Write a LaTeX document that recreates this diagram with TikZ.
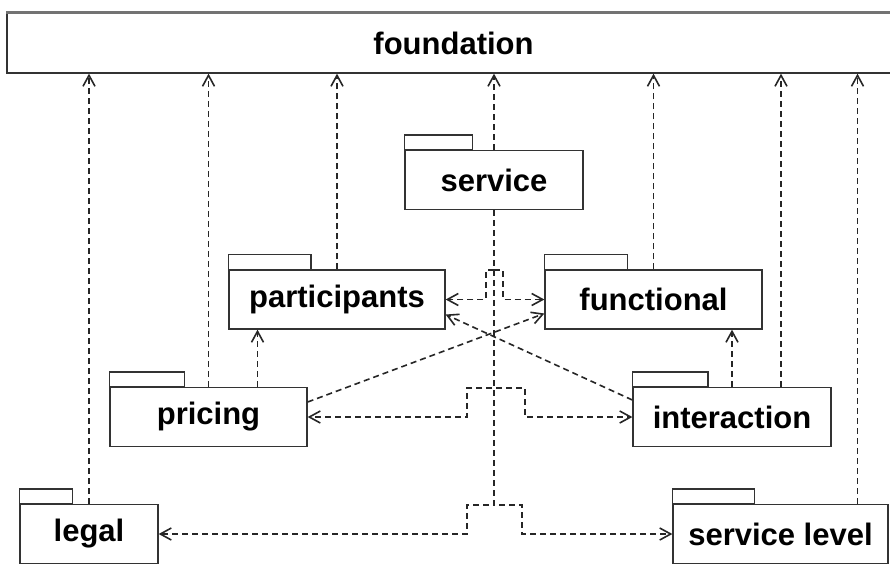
\documentclass[tikz,border=0pt]{standalone}
\usepackage{fontspec}
\setmainfont{Liberation Sans}
\usetikzlibrary{arrows.meta,calc}

\begin{document}
\begin{tikzpicture}[x=1pt,y=-1pt,
  every node/.style={draw=black!80,line width=1.3pt,fill=white,inner sep=0pt,font=\fontsize{31}{34}\selectfont\bfseries},
  pkg/.style={minimum width=#1,minimum height=59pt},
  tab/.style={draw=black!80,line width=1.3pt,fill=white},
  dep/.style={draw=black!85,line width=1.6pt,dash pattern=on 6pt off 4pt,-{Straight Barb[length=11pt,width=12pt]}}]
\useasboundingbox (0,0) rectangle (890,563);
\clip (0,0) rectangle (890,563);
\fill[white] (0,0) rectangle (890,563);
% packages
\node[minimum width=893pt,minimum height=60pt] (found) at (453.5,43) {foundation};
\draw[line width=3pt,black!55] (found.north west) -- (found.north east);
\node[pkg=178pt] (svc) at (494,180) {service};
\node[pkg=216pt] (part) at (337,299.5) {participants};
\node[pkg=217pt] (func) at (653.5,299.5) {functional};
\node[pkg=197pt] (pric) at (208.5,417) {pricing};
\node[pkg=198pt] (inter) at (732,417) {interaction};
\node[pkg=138pt] (legal) at (89,534) {legal};
\node[pkg=215pt] (slevel) at (780.5,534) {service level};
\foreach \n in {svc,part,func,pric,inter,legal,slevel}
  \draw[tab] (\n.north west) rectangle ($(\n.north west)!0.38!(\n.north east)+(0,-15)$);
% dependencies on foundation
\foreach \n in {legal,pric,part,svc,func}
  \draw[dep] (\n.north) -- (\n.north |- found.south);
\draw[dep] ([xshift=49pt]inter.north) coordinate (i1) -- (i1 |- found.south);
\draw[dep] ([xshift=77pt]slevel.north) coordinate (s1) -- (s1 |- found.south);
% service bus
\draw[dep] (svc.south) |- ++(-8,60) |- (part.east);
\draw[dep] (svc.south) |- ++(9,60) |- (func.west);
\draw[dep] (svc.south) |- ++(-27,178) |- (pric.east);
\draw[dep] (svc.south) |- ++(31,178) |- (inter.west);
\draw[dep] (svc.south) |- ++(-27,295) |- (legal.east);
\draw[dep] (svc.south) |- ++(28,295) |- (slevel.west);
% the rest
\draw[dep] ([xshift=49pt]pric.north) coordinate (p1) -- (p1 |- part.south);
\draw[dep] (inter.north) -- (inter.north |- func.south);
\draw[dep] ([yshift=15pt]pric.east) -- ([yshift=-14pt]func.west);
\draw[dep] ([yshift=17pt]inter.west) -- ([yshift=-15pt]part.east);
\end{tikzpicture}
\end{document}
